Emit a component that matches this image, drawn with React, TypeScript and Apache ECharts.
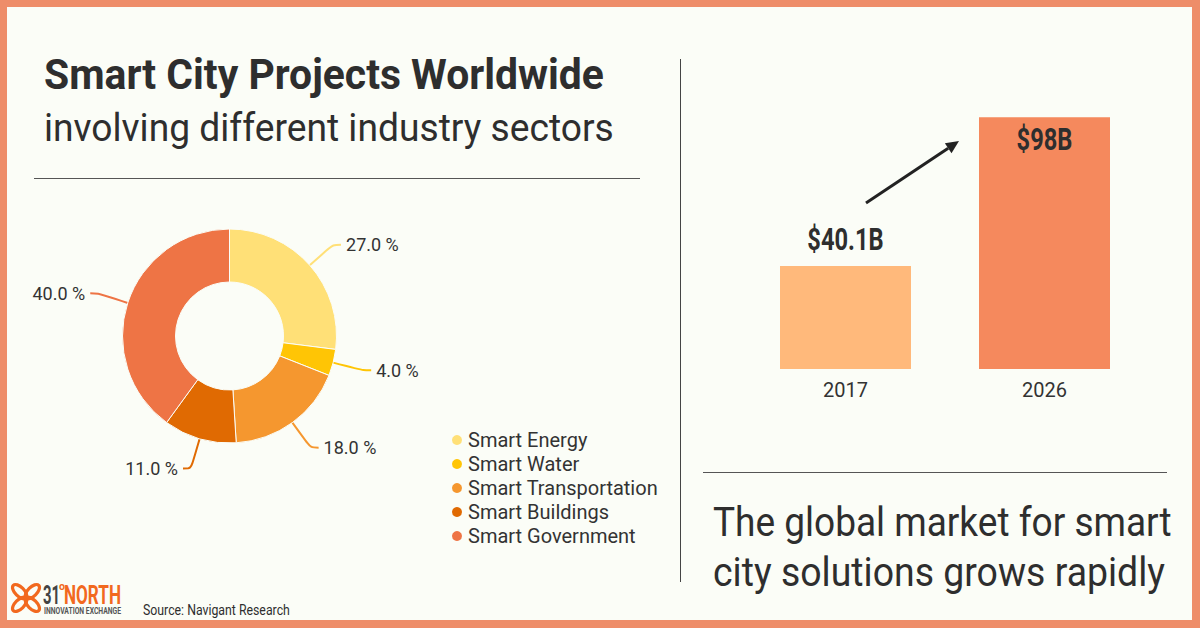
import React, { useEffect, useRef } from 'react';
import * as echarts from 'echarts';

const sectorNames = ['Smart Energy', 'Smart Water', 'Smart Transportation', 'Smart Buildings', 'Smart Government'];
const sectorShares = [27, 4, 18, 11, 40];
const sectorColors = ['#FFE077', '#FFC505', '#F5972F', '#E06A02', '#EE7445'];

const marketYears = ['2017', '2026'];
const marketValues = [40.1, 98];
const marketLabels = ['$40.1B', '$98B'];
const barColors = ['#FFB97B', '#F5895D'];

const BG = '#FBFDF7';
const BORDER = '#EE8D69';
const INK = '#2E2E2E';

let measureCtx: CanvasRenderingContext2D | null = null;
function fitScale(text: string, weight: string, size: number, family: string, width: number) {
  if (!measureCtx) measureCtx = document.createElement('canvas').getContext('2d');
  if (!measureCtx) return 1;
  measureCtx.font = `${weight} ${size}px ${family}`;
  const w = measureCtx.measureText(text).width;
  return w > 0 ? width / w : 1;
}

function txt(text: string, left: number, y: number, size: number, weight: string, color: string, width?: number, family = 'Roboto') {
  const sx = width ? fitScale(text, weight, size, family, width) : 1;
  return {
    type: 'text',
    x: left,
    y,
    scaleX: sx,
    style: {
      text,
      fill: color,
      fontFamily: family,
      fontSize: size,
      fontWeight: weight,
      align: 'left',
      verticalAlign: 'middle',
      textAlign: 'left',
      textVerticalAlign: 'middle',
    },
  };
}

export default function App() {
  const ref = useRef<HTMLDivElement>(null);
  useEffect(() => {
    if (!ref.current) return;
    const chart = echarts.init(ref.current, undefined, { renderer: 'svg' });

    const leaf = (cx: number) => ({
      type: 'ellipse',
      shape: { cx, cy: 0, rx: 9, ry: 4.5 },
      style: { fill: 'none', stroke: '#F2691F', lineWidth: 3.2 },
    });

    // arrow geometry (decoration)
    const tip = [959, 141];
    const tail = [866, 203];
    const dx = tip[0] - tail[0], dy = tip[1] - tail[1];
    const len = Math.sqrt(dx * dx + dy * dy);
    const ux = dx / len, uy = dy / len;
    const bx = tip[0] - 13 * ux, by = tip[1] - 13 * uy;
    const nx = -uy, ny = ux;

    const option: any = {
      animation: false,
      backgroundColor: BORDER,
      graphic: [
        { type: 'rect', shape: { x: 7, y: 7, width: 1185, height: 613 }, style: { fill: BG }, z: -10 },
        txt('Smart City Projects Worldwide', 44, 75, 42, 'bold', INK, 560),
        txt('involving different industry sectors', 44, 128, 38, 'normal', INK, 570),
        { type: 'line', shape: { x1: 34, y1: 178.5, x2: 640, y2: 178.5 }, style: { stroke: '#555', lineWidth: 1 } },
        { type: 'line', shape: { x1: 680.5, y1: 59, x2: 680.5, y2: 582 }, style: { stroke: '#444', lineWidth: 1 } },
        { type: 'line', shape: { x1: 703, y1: 472.5, x2: 1167, y2: 472.5 }, style: { stroke: '#555', lineWidth: 1 } },
        txt('The global market for smart', 713, 522, 41, 'normal', INK, 459),
        txt('city solutions grows rapidly', 713, 572, 41, 'normal', INK, 452),
        txt('Source: Navigant Research', 143, 610, 14, 'normal', INK, 147),
        // logo
        { type: 'group', x: 26, y: 598, rotation: Math.PI / 4, children: [leaf(-9), leaf(9)] },
        { type: 'group', x: 26, y: 598, rotation: -Math.PI / 4, children: [leaf(-9), leaf(9)] },
        txt('31', 43, 595, 25, 'bold', '#444', 17),
        txt('o', 59, 587, 10, 'bold', '#F2691F', 6),
        txt('NORTH', 64, 595, 25, 'bold', '#F2691F', 57),
        txt('INNOVATION EXCHANGE', 44, 610.5, 9.5, 'bold', '#555', 77),
        // arrow
        { type: 'line', shape: { x1: tail[0], y1: tail[1], x2: bx, y2: by }, style: { stroke: '#222', lineWidth: 3 } },
        {
          type: 'polygon',
          shape: { points: [[tip[0], tip[1]], [bx + 6 * nx, by + 6 * ny], [bx - 6 * nx, by - 6 * ny]] },
          style: { fill: '#222' },
        },
      ],
      legend: {
        orient: 'vertical',
        left: 450,
        top: 430,
        padding: 0,
        icon: 'circle',
        itemWidth: 12,
        itemHeight: 12,
        itemGap: 4,
        selectedMode: false,
        data: sectorNames,
        textStyle: { fontFamily: 'Roboto', fontSize: 20, color: '#333', lineHeight: 19 },
      },
      grid: { left: 746, top: 112, width: 398, height: 257 },
      xAxis: {
        type: 'category',
        data: marketYears,
        axisLine: { show: false },
        axisTick: { show: false },
        axisLabel: { fontFamily: 'Roboto', fontSize: 20, color: '#333', margin: 11 },
      },
      yAxis: { type: 'value', min: 0, max: 100, show: false },
      series: [
        {
          type: 'pie',
          center: [229.5, 336],
          radius: [54, 107],
          startAngle: 90,
          clockwise: true,
          emphasis: { disabled: true },
          itemStyle: { borderColor: BG, borderWidth: 1 },
          data: sectorNames.map((n, i) => ({ name: n, value: sectorShares[i], itemStyle: { color: sectorColors[i] } })),
          label: {
            formatter: (p: any) => p.percent.toFixed(1) + ' %',
            fontFamily: 'Roboto',
            fontSize: 18,
            color: '#333',
          },
          labelLine: { length: 31, length2: 8, smooth: true, lineStyle: { width: 2 } },
        },
        {
          type: 'bar',
          barWidth: 131,
          emphasis: { disabled: true },
          data: marketValues.map((v, i) => ({ value: v, itemStyle: { color: barColors[i] } })),
        },
        {
          type: 'custom',
          z: 5,
          data: marketValues.map((v, i) => [i, v]),
          renderItem: (params: any, api: any) => {
            const i = params.dataIndex;
            const p = api.coord([api.value(0), api.value(1)]);
            const offset = i === 0 ? -27 : 22;
            return {
              type: 'text',
              x: p[0],
              y: p[1] + offset,
              scaleX: 0.74,
              style: {
                text: marketLabels[i],
                fill: INK,
                fontFamily: 'Roboto',
                fontSize: 32,
                fontWeight: 'bold',
                align: 'center',
                verticalAlign: 'middle',
                textAlign: 'center',
                textVerticalAlign: 'middle',
              },
            };
          },
        },
      ],
    };
    chart.setOption(option);
    return () => chart.dispose();
  }, []);
  return <div ref={ref} style={{ position: 'fixed', left: 0, top: 0, width: 1200, height: 628 }} />;
}
